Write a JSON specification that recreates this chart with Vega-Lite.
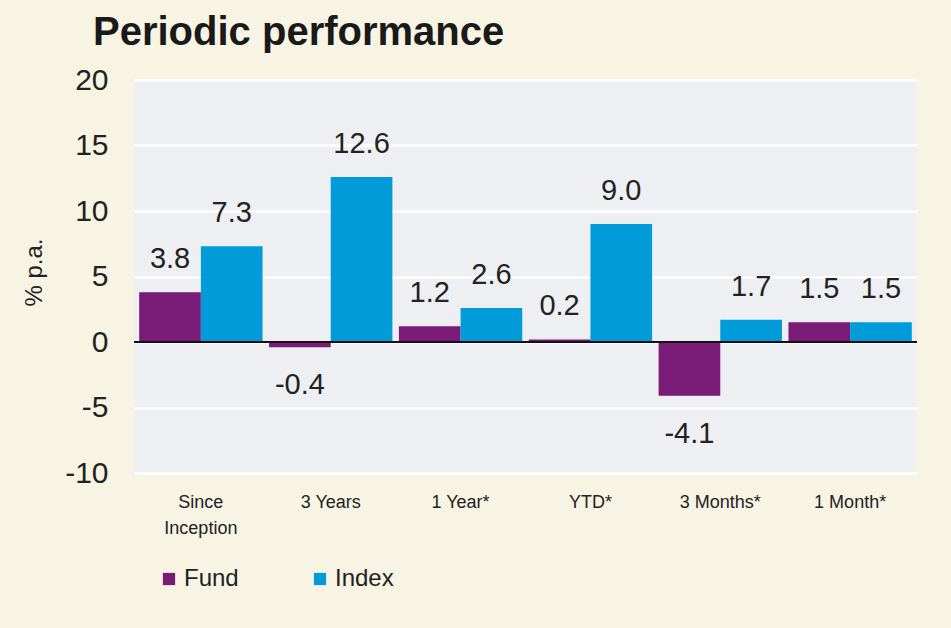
{
  "$schema": "https://vega.github.io/schema/vega-lite/v6.json",
  "width": 783,
  "height": 393,
  "autosize": {"type": "none"},
  "padding": {"left": 134, "top": 80, "right": 34, "bottom": 155},
  "background": "#f8f4e4",
  "config": {
    "font": "Liberation Sans",
    "view": {"fill": "#eeeff2", "stroke": null}
  },
  "title": {
    "text": "Periodic performance",
    "anchor": "start",
    "frame": "group",
    "fontSize": 40,
    "fontWeight": "bold",
    "color": "#1a1a1a",
    "dx": -41,
    "offset": 12
  },
  "data": {
    "values": [
      {"period": "Since Inception", "series": "Fund", "value": 3.8},
      {"period": "Since Inception", "series": "Index", "value": 7.3},
      {"period": "3 Years", "series": "Fund", "value": -0.4},
      {"period": "3 Years", "series": "Index", "value": 12.6},
      {"period": "1 Year*", "series": "Fund", "value": 1.2},
      {"period": "1 Year*", "series": "Index", "value": 2.6},
      {"period": "YTD*", "series": "Fund", "value": 0.2},
      {"period": "YTD*", "series": "Index", "value": 9.0},
      {"period": "3 Months*", "series": "Fund", "value": -4.1},
      {"period": "3 Months*", "series": "Index", "value": 1.7},
      {"period": "1 Month*", "series": "Fund", "value": 1.5},
      {"period": "1 Month*", "series": "Index", "value": 1.5}
    ]
  },
  "transform": [
    {"calculate": "replace(format(datum.value, '.1f'), '\u2212', '-')", "as": "label"}
  ],
  "encoding": {
    "x": {
      "field": "period",
      "type": "nominal",
      "sort": ["Since Inception", "3 Years", "1 Year*", "YTD*", "3 Months*", "1 Month*"],
      "scale": {"paddingInner": 0.05, "paddingOuter": 0.04},
      "axis": {
        "title": null,
        "labelAngle": 0,
        "labelFontSize": 18,
        "labelColor": "#222222",
        "labelPadding": 20,
        "labelLineHeight": 26,
        "ticks": false,
        "domain": false,
        "labelExpr": "datum.value == 'Since Inception' ? ['Since', 'Inception'] : datum.value"
      }
    },
    "xOffset": {"field": "series", "type": "nominal", "sort": ["Fund", "Index"], "scale": {"paddingInner": 0, "paddingOuter": 0}},
    "y": {
      "field": "value",
      "type": "quantitative",
      "scale": {"domain": [-10, 20], "nice": false},
      "axis": {
        "title": "% p.a.",
        "titleFontSize": 24,
        "titleFontWeight": "normal",
        "titleColor": "#222222",
        "titlePadding": 18,
        "titleY": 192,
        "values": [-10, -5, 0, 5, 10, 15, 20],
        "labelExpr": "replace(datum.label, '\u2212', '-')",
        "labelFontSize": 30,
        "labelColor": "#222222",
        "labelPadding": 26,
        "ticks": false,
        "domain": false,
        "grid": true,
        "gridColor": "#ffffff",
        "gridWidth": 2.5,
        "gridOpacity": 1
      }
    }
  },
  "layer": [
    {
      "mark": {"type": "bar"},
      "encoding": {
        "color": {
          "field": "series",
          "type": "nominal",
          "scale": {"domain": ["Fund", "Index"], "range": ["#7a1b78", "#009bd8"]},
          "legend": {
            "title": null,
            "orient": "none",
            "legendX": 23,
            "legendY": 487,
            "direction": "horizontal",
            "symbolType": "square",
            "symbolSize": 150,
            "symbolStrokeWidth": 0,
            "labelFontSize": 24,
            "labelColor": "#222222",
            "labelOffset": 3,
            "columnPadding": 69
          }
        }
      }
    },
    {
      "mark": {"type": "rule", "color": "#111111", "strokeWidth": 2},
      "encoding": {"x": {"value": 0}, "x2": {"value": 783}, "xOffset": {"value": 0}, "y": {"datum": 0}}
    },
    {
      "transform": [{"filter": "datum.value >= 0"}],
      "mark": {"type": "text", "baseline": "alphabetic", "dy": -24, "fontSize": 29, "color": "#222222"},
      "encoding": {
        "text": {"field": "label", "type": "nominal"}
      }
    },
    {
      "transform": [{"filter": "datum.value < 0"}],
      "mark": {"type": "text", "baseline": "alphabetic", "dy": 47, "fontSize": 29, "color": "#222222"},
      "encoding": {
        "text": {"field": "label", "type": "nominal"}
      }
    }
  ]
}
